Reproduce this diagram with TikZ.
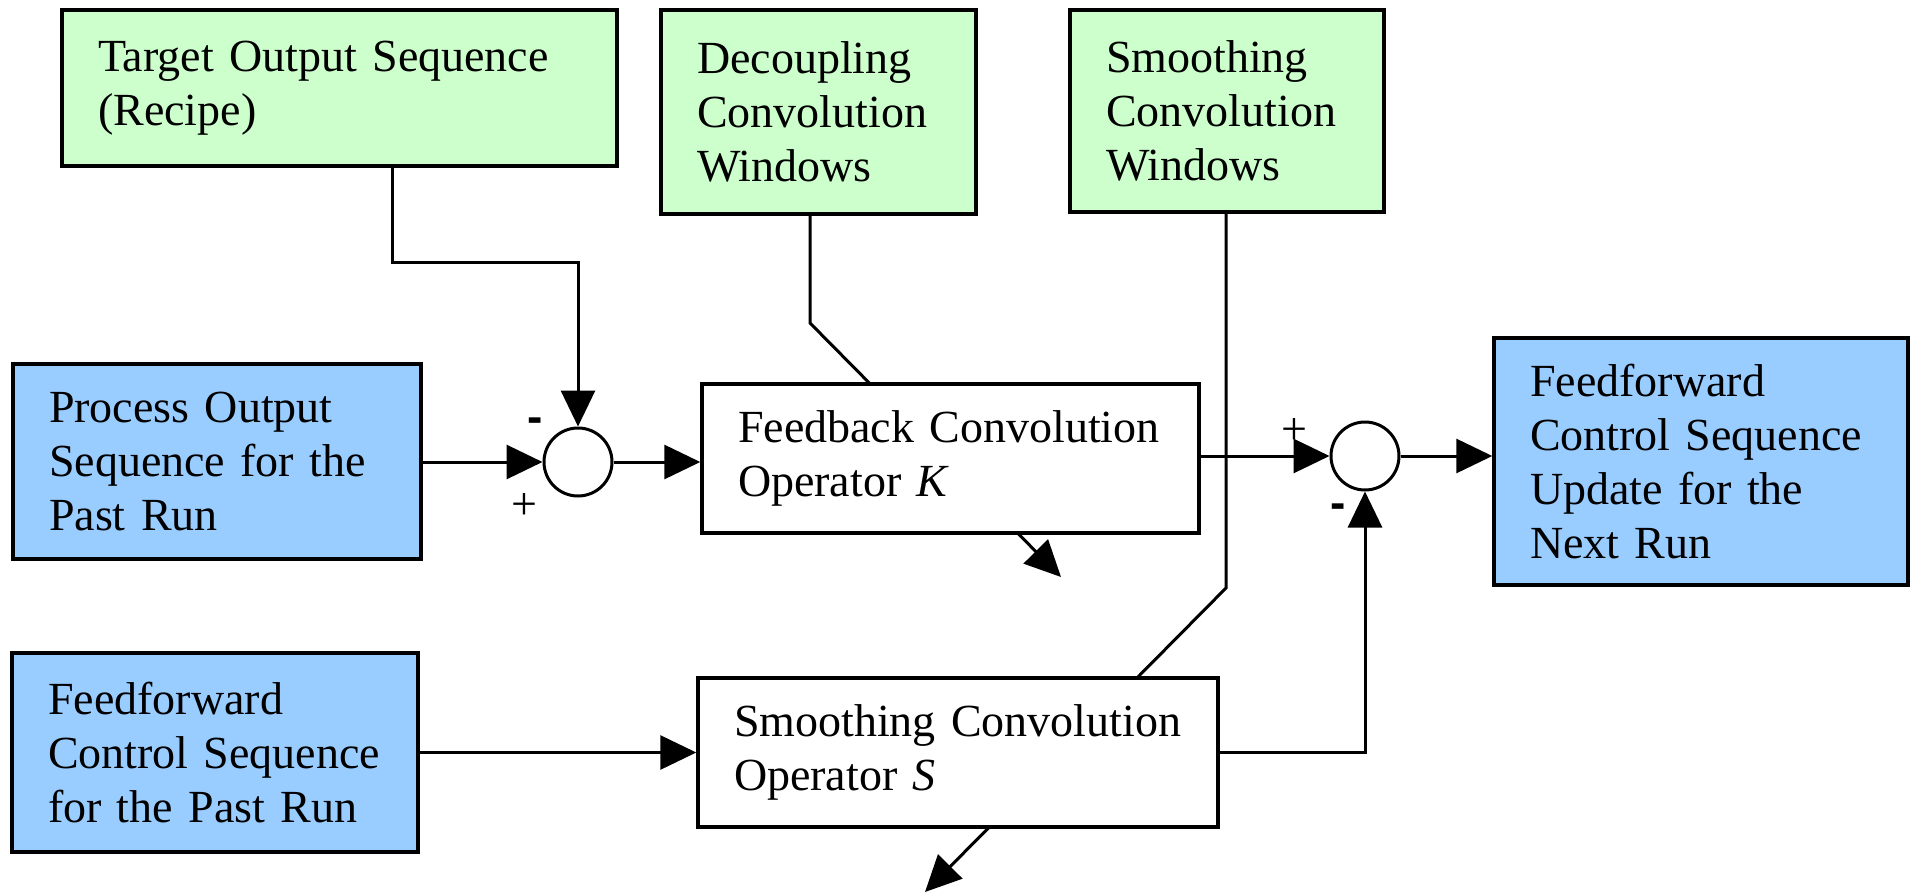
\documentclass[tikz,border=0pt]{standalone}
\usepackage{fontspec}
\setmainfont{Liberation Serif}
\newfontfamily\signfont{Liberation Sans}
\usetikzlibrary{arrows.meta}
\definecolor{gfill}{HTML}{CCFFCC}
\definecolor{bfill}{HTML}{99CCFF}
\begin{document}
\begin{tikzpicture}[x=0.5pt,y=-0.5pt,
  font=\fontsize{23}{27}\selectfont,
  box/.style={draw, line width=1.7pt, align=left, inner xsep=18pt, inner ysep=0pt},
  gbox/.style={box, fill=gfill},
  bbox/.style={box, fill=bfill},
  wbox/.style={box, fill=white},
  sumnode/.style={draw, circle, line width=1.5pt, minimum size=34pt, inner sep=0pt, fill=white},
  conn/.style={line width=1.5pt},
  arr/.style={conn, -{Triangle[length=18pt,width=17pt]}},
  sign/.style={inner sep=0pt}]
\useasboundingbox (0,0) rectangle (1913,894);

% top green boxes
\node[gbox, text width=241.5pt, minimum height=78pt] (target) at (339.5,88) {Target Output Sequence\\(Recipe)};
\node[gbox, text width=121.5pt, minimum height=102pt] (decoup) at (818.5,112) {Decoupling\\Convolution\\Windows};
\node[gbox, text width=121pt, minimum height=101pt] (smoothw) at (1227,111) {Smoothing\\Convolution\\Windows};

% diagonal lines passing behind operator boxes
\coordinate (dbend) at (810,323);
\coordinate (dtip) at (1061,577);
\coordinate (sbend) at (1226,588);
\coordinate (stip) at (925,892);
\draw[arr] (decoup.south -| dbend) -- (dbend) -- (dtip);
\draw[arr] (smoothw.south -| sbend) -- (sbend) -- (stip);

% other boxes
\node[bbox, text width=168pt, minimum height=97.5pt] (procout) at (217,461.5) {Process Output\\Sequence for the\\Past Run};
\node[bbox, text width=167pt, minimum height=99.5pt] (ffpast) at (215,752.5) {Feedforward\\Control Sequence\\for the Past Run};
\node[bbox, text width=171pt, minimum height=123.5pt] (out) at (1701,461.5) {Feedforward\\Control Sequence\\Update for the\\Next Run};
\node[wbox, text width=212.5pt, minimum height=74.5pt] (fbk) at (950.5,458.5) {Feedback Convolution\\Operator \textit{K}};
\node[wbox, text width=224pt, minimum height=74.5pt] (sop) at (958,752.5) {Smoothing Convolution\\Operator \textit{S}};

% summing junctions
\node[sumnode] (sum1) at (578,462) {};
\node[sumnode] (sum2) at (1365,456) {};

% connectors
\coordinate (tbend) at (392,262);
\draw[arr] (target.south -| tbend) -- (tbend) -| (sum1.north);
\draw[arr] (procout.east |- sum1) -- (sum1.west);
\draw[arr] (sum1.east) -- (fbk.west |- sum1);
\draw[arr] (fbk.east |- sum2) -- (sum2.west);
\draw[arr] (sum2.east) -- (out.west |- sum2);
\draw[arr] (ffpast.east) -- (sop.west);
\draw[arr] (sop.east) -| (sum2.south);

% signs
\node[sign] (m1) at (535,425) {\signfont\bfseries -};
\node[sign] (p1) at (524,507) {+};
\node[sign] (p2) at (1294,432) {+};
\node[sign] (m2) at (1338,511) {\signfont\bfseries -};
\end{tikzpicture}
\end{document}
